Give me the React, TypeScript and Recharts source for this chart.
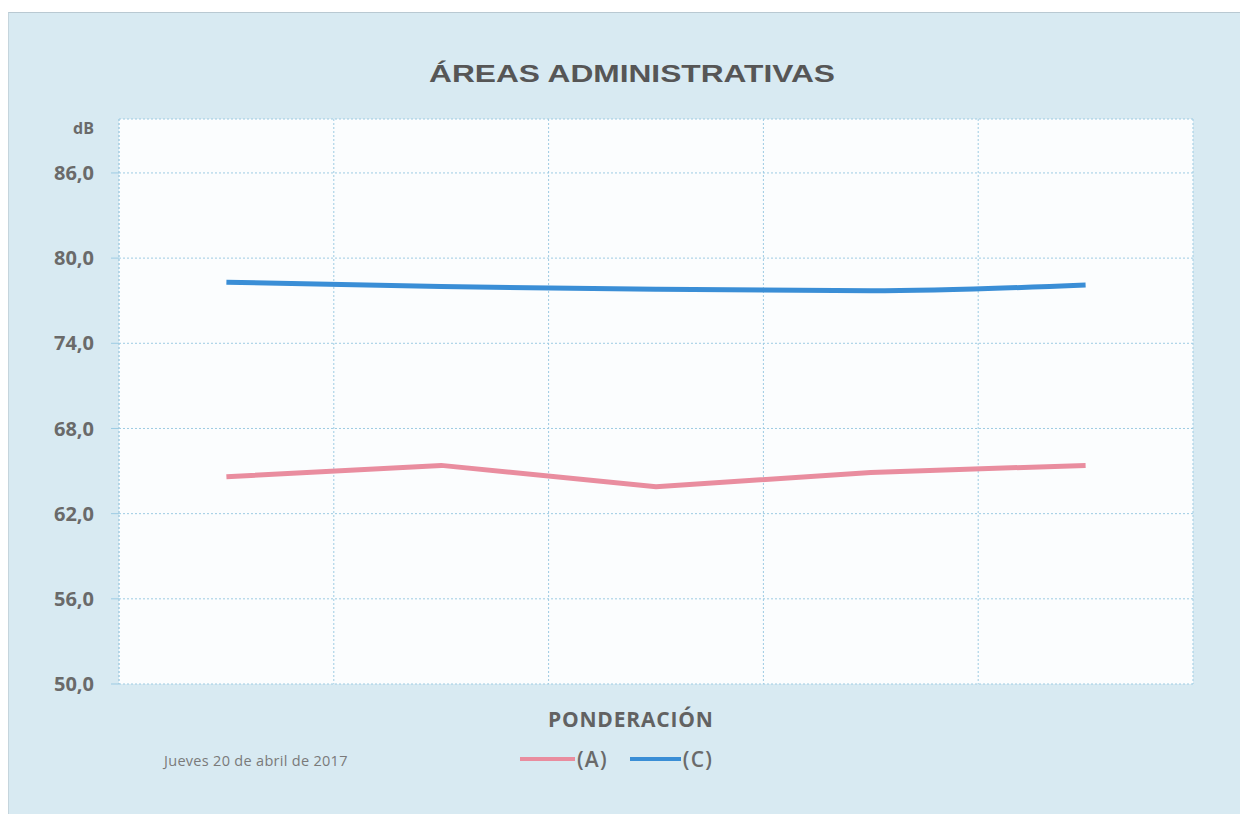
import React from "react";
import { LineChart, Line, XAxis, YAxis, CartesianGrid } from "recharts";

const categories = ["1", "2", "3", "4", "5"];
const seriesA = [64.6, 65.4, 63.9, 64.9, 65.4];
const seriesC = [78.3, 78.0, 77.8, 77.7, 78.1];
const yTicks = [50, 56, 62, 68, 74, 80, 86];
const seriesNames = ["(A)", "(C)"];
const seriesColors = ["#e98d9f", "#3a8ed6"];

const data = categories.map((c, i) => ({ name: c, pos: i + 0.5, A: seriesA[i], C: seriesC[i] }));

const fmt = (v: number) => v.toFixed(1).replace(".", ",");

export default function App() {
  return (
    <div style={{ position: "relative", width: 1232, height: 802, background: "#d8eaf2", borderTop: "1px solid #b9c9d2", borderLeft: "1px solid #c5d5dd", marginTop: 4, boxSizing: "border-box" }}>
      <div style={{ position: "absolute", left: 0, width: 1246, top: 47, textAlign: "center", fontFamily: "'Liberation Sans', Arial, sans-serif", fontWeight: 700, fontSize: 24, color: "#565656", transform: "scaleX(1.32)", transformOrigin: "623px 0" }}>
        ÁREAS ADMINISTRATIVAS
      </div>
      <div style={{ position: "absolute", left: 64, top: 104, fontFamily: "'Open Sans', sans-serif", fontWeight: 700, fontSize: 16, color: "#6a6a6a" }}>dB</div>
      <div style={{ position: "absolute", left: 539, top: 692, fontFamily: "'Open Sans', sans-serif", fontWeight: 700, fontSize: 21, color: "#626262", letterSpacing: 0.8 }}>PONDERACIÓN</div>
      <div style={{ position: "absolute", left: 155, top: 738, fontFamily: "'Open Sans', sans-serif", fontSize: 14.5, color: "#7a7a7a", letterSpacing: 0.3 }}>Jueves 20 de abril de 2017</div>
      <div style={{ position: "absolute", left: 511, top: 732, display: "flex", alignItems: "center", fontFamily: "'Open Sans', sans-serif", fontWeight: 600, fontSize: 21, letterSpacing: 1.2, color: "#6a6a6a" }}>
        {seriesNames.map((n, i) => (
          <div key={n} style={{ display: "flex", alignItems: "center", marginRight: i === 0 ? 22 : 0 }}>
            <div style={{ width: i === 0 ? 55 : 51, height: 4, background: seriesColors[i], marginRight: 2 }} />
            <span>{n}</span>
          </div>
        ))}
      </div>
      <LineChart width={1232} height={802} data={data} margin={{ top: 106, right: 48, bottom: 131, left: 10 }}>
        <CartesianGrid fill="#fbfdfe" stroke="#9dcbe3" strokeDasharray="2 2" />
        <XAxis type="number" dataKey="pos" domain={[0, 5]} ticks={[1, 2, 3, 4]} hide height={0} />
        <YAxis
          width={100}
          domain={[50, 89.8]}
          ticks={yTicks}
          tickFormatter={fmt}
          tickSize={8}
          tickMargin={17}
          axisLine={{ stroke: "#a8cfe3", strokeDasharray: "2 2" }}
          tickLine={{ stroke: "#9dcbe3" }}
          tick={{ fill: "#6a6a6a", fontSize: 20, fontWeight: 700, fontFamily: "'Open Sans', sans-serif" }}
        />
        <Line dataKey="A" name={seriesNames[0]} type="linear" stroke={seriesColors[0]} strokeWidth={5} dot={false} isAnimationActive={false} />
        <Line dataKey="C" name={seriesNames[1]} type="monotone" stroke={seriesColors[1]} strokeWidth={5} dot={false} isAnimationActive={false} />
      </LineChart>
    </div>
  );
}
